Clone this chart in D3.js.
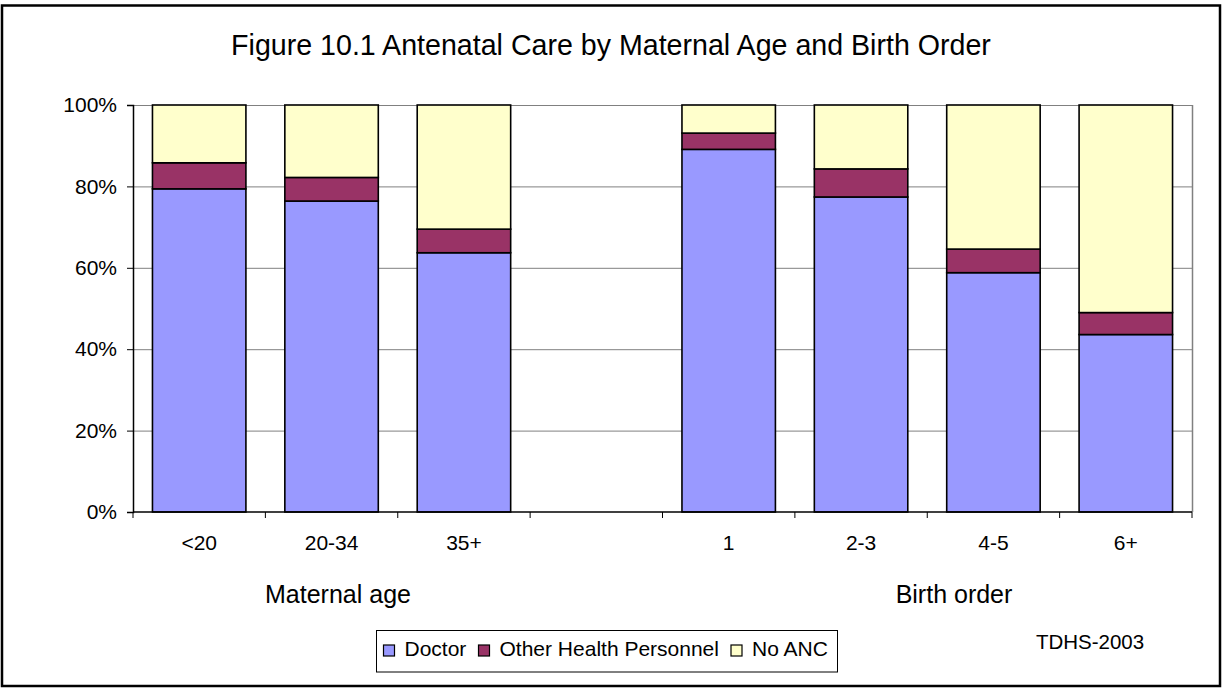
<!DOCTYPE html>
<html>
<head>
<meta charset="utf-8">
<script src="https://cdn.jsdelivr.net/npm/d3@7"></script>
<style>
  html, body { margin: 0; padding: 0; background: #fff; }
  svg { display: block; font-family: "Liberation Sans", Arial, sans-serif; }
</style>
</head>
<body>
<svg id="chart" width="1225" height="688"></svg>
<script>
const title = "Figure 10.1 Antenatal Care by Maternal Age and Birth Order";
const categories = ["<20", "20-34", "35+", "", "1", "2-3", "4-5", "6+"];
const seriesNames = ["Doctor", "Other Health Personnel", "No ANC"];
const doctor      = [79.4, 76.4, 63.7, null, 89.1, 77.4, 58.8, 43.6];
const otherHealth = [ 6.4,  5.8,  5.8, null,  4.0,  6.9,  5.8,  5.4];
const noANC       = [14.2, 17.8, 30.5, null,  6.9, 15.7, 35.4, 51.0];
const yTicks = [0, 20, 40, 60, 80, 100];
const groupLabels = ["Maternal age", "Birth order"];
const sourceNote = "TDHS-2003";
const colors = ["#9999FF", "#993366", "#FFFFCC"];

const svg = d3.select("#chart");
const plot = { left: 133, right: 1192, top: 105, bottom: 512 };

// outer frame
svg.append("rect").attr("x", 2).attr("y", 5.5).attr("width", 1218).attr("height", 680.5)
  .attr("fill", "#fff").attr("stroke", "#000").attr("stroke-width", 2.5);

// title
svg.append("text").attr("x", 611).attr("y", 55).attr("text-anchor", "middle")
  .attr("font-size", 28.6).attr("fill", "#000").text(title);

const x = d3.scaleBand().domain(categories).range([plot.left, plot.right])
  .paddingInner(0.294).paddingOuter(0.147);
const y = d3.scaleLinear().domain([0, 100]).range([plot.bottom, plot.top]);

// gridlines
svg.append("g").selectAll("line").data(yTicks.filter(d => d > 0)).join("line")
  .attr("x1", plot.left).attr("x2", plot.right)
  .attr("y1", d => y(d) + 0.5).attr("y2", d => y(d) + 0.5)
  .attr("stroke", "#808080").attr("stroke-width", 1);

// plot area right border
svg.append("line").attr("x1", plot.right + 0.5).attr("x2", plot.right + 0.5)
  .attr("y1", plot.top).attr("y2", plot.bottom).attr("stroke", "#808080").attr("stroke-width", 1.5);

// stacked data
const rows = categories.map((c, i) => ({ cat: c, Doctor: doctor[i], "Other Health Personnel": otherHealth[i], "No ANC": noANC[i] }))
  .filter(r => r.Doctor !== null);
const stacked = d3.stack().keys(seriesNames)(rows);

svg.append("g").selectAll("g").data(stacked).join("g")
  .attr("fill", (d, i) => colors[i])
  .selectAll("rect").data(d => d).join("rect")
  .attr("x", d => x(d.data.cat))
  .attr("width", x.bandwidth())
  .attr("y", d => y(d[1]))
  .attr("height", d => y(d[0]) - y(d[1]))
  .attr("stroke", "#000").attr("stroke-width", 1.6);

// y axis
const yAxis = d3.axisLeft(y).tickValues(yTicks).tickFormat(d => d + "%").tickSize(6).tickPadding(10);
const gy = svg.append("g").attr("transform", `translate(${plot.left},0)`).call(yAxis);
gy.select(".domain").attr("stroke", "#000").attr("stroke-width", 1.5);
gy.selectAll(".tick line").attr("stroke", "#000");
gy.selectAll("text").attr("font-size", 21).attr("font-family", "'Liberation Sans', Arial, sans-serif").attr("fill", "#000");

// x axis line
svg.append("line").attr("x1", plot.left).attr("x2", plot.right)
  .attr("y1", plot.bottom).attr("y2", plot.bottom).attr("stroke", "#000").attr("stroke-width", 1.5);

// x ticks at category boundaries
const step = x.step();
const boundaries = d3.range(categories.length + 1).map(i => plot.left + i * step);
svg.append("g").selectAll("line").data(boundaries).join("line")
  .attr("x1", d => d).attr("x2", d => d)
  .attr("y1", plot.bottom).attr("y2", plot.bottom + 6)
  .attr("stroke", "#000").attr("stroke-width", 1);

// category labels
svg.append("g").selectAll("text").data(categories).join("text")
  .attr("x", d => x(d) + x.bandwidth() / 2).attr("y", 550)
  .attr("text-anchor", "middle").attr("font-size", 21).attr("fill", "#000")
  .text(d => d);

// group labels
const groupX = [338, 954];
svg.append("g").selectAll("text").data(groupLabels).join("text")
  .attr("x", (d, i) => groupX[i]).attr("y", 603)
  .attr("text-anchor", "middle").attr("font-size", 25).attr("fill", "#000")
  .text(d => d);

// legend
const lg = svg.append("g");
lg.append("rect").attr("x", 376.5).attr("y", 630.5).attr("width", 461).attr("height", 41.5)
  .attr("fill", "#fff").attr("stroke", "#000").attr("stroke-width", 1);
const legX = [383.5, 478.5, 731];
seriesNames.forEach((name, i) => {
  lg.append("rect").attr("x", legX[i]).attr("y", 645).attr("width", 11).attr("height", 11)
    .attr("fill", colors[i]).attr("stroke", "#000").attr("stroke-width", 1.2);
  lg.append("text").attr("x", legX[i] + 21).attr("y", 656).attr("font-size", 21).attr("fill", "#000").text(name);
});

// source note
svg.append("text").attr("x", 1090).attr("y", 649).attr("text-anchor", "middle")
  .attr("font-size", 20.5).attr("fill", "#000").text(sourceNote);
</script>
</body>
</html>
